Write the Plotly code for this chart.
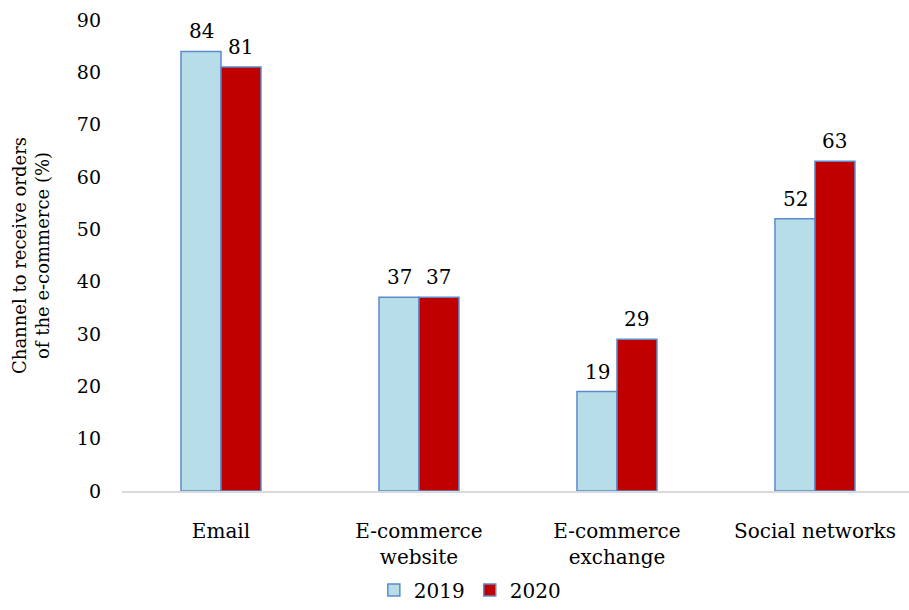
import plotly.graph_objects as go

categories = ["Email", "E-commerce<br>website", "E-commerce<br>exchange", "Social networks"]
years = ["2019", "2020"]
values_2019 = [84, 37, 19, 52]
values_2020 = [81, 37, 29, 63]

FONT = "DejaVu Serif"
fills = {"2019": "#B7DEE8", "2020": "#C00000"}
outline = "#5B8BCB"

fig = go.Figure()
for year, vals in zip(years, [values_2019, values_2020]):
    fig.add_trace(go.Bar(
        x=categories, y=vals, name=year,
        marker=dict(color=fills[year], line=dict(color=outline, width=1.5)),
    ))

# value labels above each bar
offsets = {"2019": -0.1, "2020": 0.1}
annotations = []
for year, vals in zip(years, [values_2019, values_2020]):
    for i, v in enumerate(vals):
        annotations.append(dict(
            x=i + offsets[year], y=v, xref="x", yref="y",
            text=str(v), showarrow=False, yanchor="bottom", yshift=6,
            font=dict(family=FONT, size=20, color="#000000"),
        ))

fig.update_layout(
    width=909, height=610,
    margin=dict(l=122, r=0, t=20, b=112),
    paper_bgcolor="white", plot_bgcolor="white",
    barmode="group", bargap=0.596, bargroupgap=0,
    font=dict(family=FONT, size=19, color="#000000"),
    showlegend=True,
    legend=dict(orientation="h", x=0.442, xanchor="center", y=-0.21, yanchor="middle",
                font=dict(family=FONT, size=20), itemwidth=30, tracegroupgap=0),
    annotations=annotations,
)
fig.update_xaxes(
    type="category", range=[-0.5, 3.475],
    showline=True, linecolor="#D9D9D9", linewidth=1.5,
    showgrid=False, ticks="", ticklabelstandoff=21,
    tickfont=dict(family=FONT, size=20),
)
fig.update_yaxes(
    range=[0, 90], dtick=10, showgrid=False, zeroline=False, showline=False,
    ticks="", ticklabelstandoff=20,
    tickfont=dict(family=FONT, size=19),
    title=dict(text="Channel to receive orders<br>of the e-commerce (%)",
               font=dict(family=FONT, size=18), standoff=22),
)

fig.write_html("out.html")
